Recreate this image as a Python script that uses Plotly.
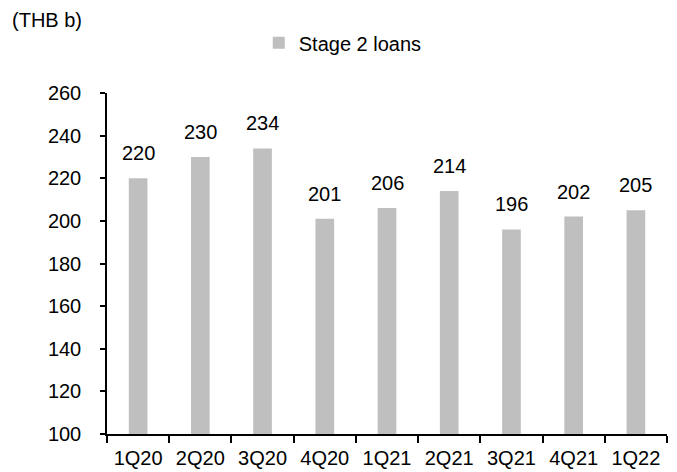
import plotly.graph_objects as go

categories = ["1Q20", "2Q20", "3Q20", "4Q20", "1Q21", "2Q21", "3Q21", "4Q21", "1Q22"]
stage2_loans = [220, 230, 234, 201, 206, 214, 196, 202, 205]
y_ticks = [100, 120, 140, 160, 180, 200, 220, 240, 260]

FONT = "Liberation Sans, Arial, sans-serif"
FS = 20

fig = go.Figure()
fig.add_trace(go.Bar(
    x=categories, y=stage2_loans, name="Stage 2 loans",
    marker=dict(color="#BFBFBF", line=dict(width=0)),
))

annotations = [
    dict(x=c, y=v, text=str(v), xref="x", yref="y", showarrow=False,
         xanchor="center", yanchor="bottom", yshift=12,
         font=dict(size=FS, color="#000000", family=FONT))
    for c, v in zip(categories, stage2_loans)
]
annotations.append(dict(text="(THB b)", xref="paper", yref="paper", x=-0.173, y=1.214,
                        xanchor="left", yanchor="middle", showarrow=False,
                        font=dict(size=FS, family=FONT)))

fig.update_layout(
    width=669, height=464,
    margin=dict(l=99, r=10, t=85, b=38, autoexpand=False),
    paper_bgcolor="white", plot_bgcolor="white",
    bargap=0.7,
    font=dict(family=FONT, size=FS, color="#000000"),
    showlegend=True,
    legend=dict(orientation="h", x=0.271, xanchor="left", y=1.147, yanchor="middle",
                font=dict(size=FS), itemwidth=30, bgcolor="rgba(0,0,0,0)"),
    xaxis=dict(showline=True, linecolor="#000000", linewidth=1.5,
               ticks="outside", tickson="boundaries", ticklen=7, tickcolor="#000000",
               tickwidth=1.5, showgrid=False, tickfont=dict(size=FS),
               ticklabelstandoff=5),
    yaxis=dict(range=[100, 260], tickvals=y_ticks, showline=True, linecolor="#000000",
               linewidth=1.5, ticks="outside", ticklen=5, tickcolor="#000000", tickwidth=1.5,
               ticklabelstandoff=15,
               showgrid=False, zeroline=False, tickfont=dict(size=FS)),
    annotations=annotations,
)

fig.write_html("out.html")
